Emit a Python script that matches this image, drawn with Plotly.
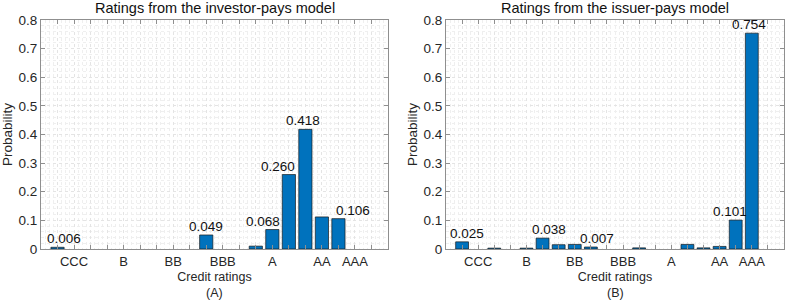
import plotly.graph_objects as go

# ---------------- data ----------------
positions_A = [1, 10, 13, 14, 15, 16, 17, 18]
values_A = [0.006, 0.049, 0.010, 0.068, 0.260, 0.418, 0.112, 0.106]
labels_A = ["0.006", "0.049", "", "0.068", "0.260", "0.418", "", "0.106"]

positions_B = [1, 3, 5, 6, 7, 8, 9, 12, 15, 16, 17, 18, 19]
values_B = [0.025, 0.003, 0.003, 0.038, 0.015, 0.016, 0.007, 0.004, 0.016, 0.004, 0.009, 0.101, 0.754]
labels_B = ["0.025", "", "", "0.038", "", "", "0.007", "", "", "", "", "0.101", "0.754"]

tick_positions = [2, 5, 8, 11, 14, 17, 19]
tick_labels = ["CCC", "B", "BB", "BBB", "A", "AA", "AAA"]

titles = ["Ratings from the investor-pays model", "Ratings from the issuer-pays model"]
panel_tags = ["(A)", "(B)"]

# label horizontal offsets in px (style only)
shift_A = [6, 0, 0, -9, -11, -2, 0, 15]
shift_B = [5, 0, 0, 6, 0, 0, 6, 0, 0, 0, 0, -6, -3]

FONT = "Liberation Sans, Arial, sans-serif"
TXT = "#262626"
BAR = "#0072BD"
AXC = "#8f8f8f"

fig = go.Figure()

all_int = list(range(0, 22))
ticktext = [tick_labels[tick_positions.index(i)] if i in tick_positions else "" for i in all_int]

doms = [(41 / 789, 388 / 789), (446 / 789, 784 / 789)]
ydom = (1 - 249 / 302, 1 - 20 / 302)

for k, (pos, vals, labs, shifts) in enumerate([
    (positions_A, values_A, labels_A, shift_A),
    (positions_B, values_B, labels_B, shift_B),
]):
    xa = "x" if k == 0 else "x2"
    ya = "y" if k == 0 else "y2"
    fig.add_trace(go.Bar(
        x=pos, y=vals, xaxis=xa, yaxis=ya, width=0.8,
        marker=dict(color=BAR, line=dict(color="#1a1a1a", width=0.7)),
        showlegend=False, hoverinfo="x+y",
    ))
    for p, v, l, s in zip(pos, vals, labs, shifts):
        if l:
            fig.add_annotation(
                x=p, y=v, xref=xa, yref=ya, text=l, showarrow=False,
                xanchor="center", yanchor="bottom", xshift=s, yshift=-1,
                font=dict(family=FONT, size=13.5, color="#111111"),
            )
    axn = "" if k == 0 else "2"
    cx = (doms[k][0] + doms[k][1]) / 2
    fig.add_annotation(x=cx, y=1.0, xref="paper", yref="paper", text=titles[k],
                       showarrow=False, xanchor="center", yanchor="top", yshift=2,
                       font=dict(family=FONT, size=14.5, color="#111111"))
    fig.add_annotation(x=cx, y=0.0, xref="paper", yref="paper", text=panel_tags[k],
                       showarrow=False, xanchor="center", yanchor="bottom", yshift=0,
                       font=dict(family=FONT, size=12.5, color=TXT))

    fig.layout["xaxis" + axn] = dict(
        domain=list(doms[k]), anchor=ya, range=[0, 21], automargin=False,
        tickmode="array", tickvals=all_int, ticktext=ticktext,
        ticks="inside", ticklen=4, tickcolor=AXC, tickwidth=1,
        showline=True, linecolor=AXC, linewidth=1, mirror="ticks",
        showgrid=True, gridcolor="#e4e4e4", griddash="dot", gridwidth=1,
        minor=dict(dtick=0.25, tick0=0, showgrid=True, gridcolor="#efefef",
                   griddash="dot", gridwidth=1, ticks=""),
        tickfont=dict(family=FONT, size=13, color=TXT),
        title=dict(text="Credit ratings", font=dict(family=FONT, size=12.5, color=TXT), standoff=4),
        zeroline=False, fixedrange=True,
    )
    fig.layout["yaxis" + axn] = dict(
        domain=list(ydom), anchor=xa, range=[0, 0.8], automargin=False,
        tickmode="array", tickvals=[0, 0.1, 0.2, 0.3, 0.4, 0.5, 0.6, 0.7, 0.8],
        ticktext=["0", "0.1", "0.2", "0.3", "0.4", "0.5", "0.6", "0.7", "0.8"],
        ticks="inside", ticklen=4, tickcolor=AXC, tickwidth=1,
        showline=True, linecolor=AXC, linewidth=1, mirror="ticks",
        showgrid=True, gridcolor="#e4e4e4", griddash="dot", gridwidth=1,
        minor=dict(dtick=0.02, tick0=0, showgrid=True, gridcolor="#efefef",
                   griddash="dot", gridwidth=1, ticks=""),
        tickfont=dict(family=FONT, size=13.5, color=TXT),
        title=dict(text="Probability", font=dict(family=FONT, size=13.5, color=TXT), standoff=2),
        zeroline=False, fixedrange=True,
    )

fig.update_layout(
    width=789, height=302, autosize=False,
    margin=dict(l=0, r=0, t=0, b=0, pad=0, autoexpand=False),
    paper_bgcolor="white", plot_bgcolor="white",
    bargap=0.2,
)

fig.write_html(
    "out.html",
    config={"displayModeBar": False},
    post_script="document.body.style.margin='0';document.body.style.padding='0';"
                "document.body.style.overflow='hidden';",
)
